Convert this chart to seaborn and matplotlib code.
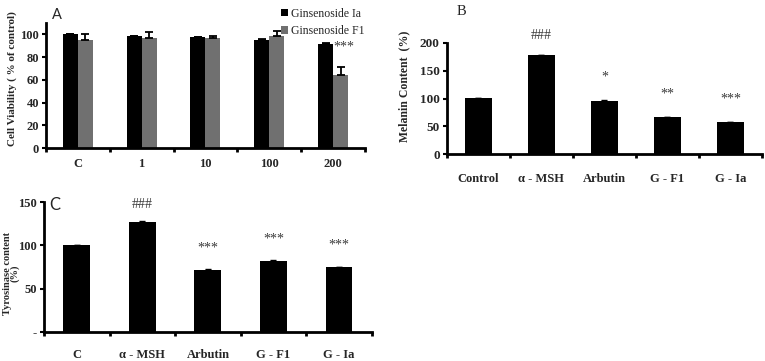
import numpy as np
import pandas as pd
import matplotlib
matplotlib.use("Agg")
import matplotlib.pyplot as plt
import seaborn as sns

sns.set_theme(style="white")
plt.rcParams['font.family'] = ['Liberation Serif', 'DejaVu Sans']

# ---- data ----
# A: cell viability
doses      = ["C", "1", "10", "100", "200"]
via_ia     = [100, 98.5, 97.5, 95.5, 92]
via_ia_err = [0.5, 0.5, 0.5, 0.5, 0.5]
via_f1     = [95, 96.5, 97, 98.5, 64]
via_f1_err = [5, 6, 2, 4.5, 7]
compounds  = ["Ginsenoside Ia", "Ginsenoside F1"]

# B: melanin content
treat_b     = ["Control", "α - MSH", "Arbutin", "G - F1", "G - Ia"]
melanin     = [101, 178, 96, 66, 58]
melanin_err = [0.5, 0.5, 0.5, 1.0, 0.5]
melanin_sig = ["", "###", "*", "**", "***"]

# C: tyrosinase content
treat_c  = ["C", "α - MSH", "Arbutin", "G - F1", "G - Ia"]
tyro     = [100, 127, 72, 82, 75]
tyro_err = [0.8, 0.8, 0.5, 0.8, 0.5]
tyro_sig = ["", "###", "***", "***", "***"]

BLACK = "#000000"
GREY = "#707070"
SIG_COL = "#3a3a3a"

fig = plt.figure(figsize=(7.65, 3.61), dpi=100)
axA = fig.add_axes([0.060, 0.590, 0.417, 0.346])
axB = fig.add_axes([0.584, 0.573, 0.412, 0.308])
axC = fig.add_axes([0.0575, 0.080, 0.4285, 0.360])


def style_axis(ax, cats, pad, ysize=9):
    n = len(cats)
    ax.set_xlim(-0.5, n - 0.5)
    ax.set_xticks(np.arange(-0.5, n), labels=[])
    ax.set_xticks(np.arange(n), minor=True, labels=cats)
    ax.tick_params(axis="x", which="major", direction="out", length=3,
                   width=2, color="black", bottom=True)
    ax.tick_params(axis="x", which="minor", length=0, pad=pad, labelsize=9)
    ax.tick_params(axis="y", direction="out", length=3, width=1.5,
                   color="black", left=True, labelsize=ysize, pad=2)
    for lab in ax.get_xticklabels(minor=True) + ax.get_yticklabels():
        lab.set_fontweight("bold")
    sns.despine(ax=ax)
    for sp in ["left", "bottom"]:
        ax.spines[sp].set_linewidth(2)
        ax.spines[sp].set_color("black")
    ax.set_xlabel("")


# ---- A ----
dfA = pd.DataFrame({
    "dose": doses * 2,
    "value": via_ia + via_f1,
    "compound": [compounds[0]] * 5 + [compounds[1]] * 5,
})
sns.barplot(data=dfA, x="dose", y="value", hue="compound", order=doses,
            hue_order=compounds, palette=[BLACK, GREY], width=0.47,
            errorbar=None, linewidth=0, legend=False, ax=axA)
for cont, err in zip(axA.containers, [via_ia_err, via_f1_err]):
    xs = [b.get_x() + b.get_width() / 2 for b in cont]
    ys = [b.get_height() for b in cont]
    axA.errorbar(xs, ys, yerr=[np.zeros(len(err)), err], fmt="none",
                 ecolor="black", elinewidth=1.3, capsize=3, capthick=1.3)
f1_last = axA.containers[1][-1]
axA.text(f1_last.get_x() + f1_last.get_width() * 0.75, 89, "***",
         ha="center", va="center", fontsize=10, color=SIG_COL)
axA.set_ylim(0, 110)
axA.set_yticks([0, 20, 40, 60, 80, 100])
axA.set_ylabel("Cell Viability ( % of control)", fontsize=8,
               fontweight="bold")
axA.yaxis.set_label_coords(-0.09, 0.56)
style_axis(axA, doses, 7)
axA.legend(axA.containers, compounds, loc="upper right",
           bbox_to_anchor=(1.015, 1.16), frameon=False, fontsize=8.5,
           handlelength=0.6, handleheight=0.6, handletextpad=0.3,
           labelspacing=0.45, borderaxespad=0)
axA.text(0.02, 1.01, "A", transform=axA.transAxes, fontsize=10.5,
         family="Lato", va="bottom")

# ---- B ----
dfB = pd.DataFrame({"treat": treat_b, "value": melanin})
sns.barplot(data=dfB, x="treat", y="value", color=BLACK, width=0.42,
            errorbar=None, linewidth=0, ax=axB)
barsB = axB.containers[0]
xsB = [b.get_x() + b.get_width() / 2 for b in barsB]
axB.errorbar(xsB, melanin, yerr=[np.zeros(5), melanin_err], fmt="none",
             ecolor="black", elinewidth=1, capsize=2.5, capthick=1)
for x, v, s in zip(xsB, melanin, melanin_sig):
    off = 36 if s.startswith("#") else 42
    axB.text(x, v + off, s, ha="center", va="center", fontsize=10,
             color=SIG_COL, clip_on=False)
axB.set_ylim(0, 200)
axB.set_yticks([0, 50, 100, 150, 200])
axB.set_ylabel("Melanin Content  (%)", fontsize=8.5, fontweight="bold")
axB.yaxis.set_label_coords(-0.117, 0.61)
style_axis(axB, treat_b, 13.5, ysize=9.5)
axB.text(0.03, 1.22, "B", transform=axB.transAxes, fontsize=10.5,
         va="bottom")

# ---- C ----
dfC = pd.DataFrame({"treat": treat_c, "value": tyro})
sns.barplot(data=dfC, x="treat", y="value", color=BLACK, width=0.41,
            errorbar=None, linewidth=0, ax=axC)
barsC = axC.containers[0]
xsC = [b.get_x() + b.get_width() / 2 for b in barsC]
axC.errorbar(xsC, tyro, yerr=[np.zeros(5), tyro_err], fmt="none",
             ecolor="black", elinewidth=1, capsize=2.5, capthick=1)
for x, v, s in zip(xsC, tyro, tyro_sig):
    off = 20 if s.startswith("#") else 25
    axC.text(x, v + off, s, ha="center", va="center", fontsize=10,
             color=SIG_COL, clip_on=False)
axC.set_ylim(0, 150)
axC.set_yticks([0, 50, 100, 150], labels=["-", "50", "100", "150"])
axC.set_ylabel("Tyrosinase content\n(%)", fontsize=7.5, fontweight="bold",
               linespacing=0.8)
axC.yaxis.set_label_coords(-0.074, 0.45)
style_axis(axC, treat_c, 12)
axC.text(0.015, 1.04, "C", transform=axC.transAxes, fontsize=12,
         family="Lato", va="top")

fig.savefig("out.png", dpi=100)
